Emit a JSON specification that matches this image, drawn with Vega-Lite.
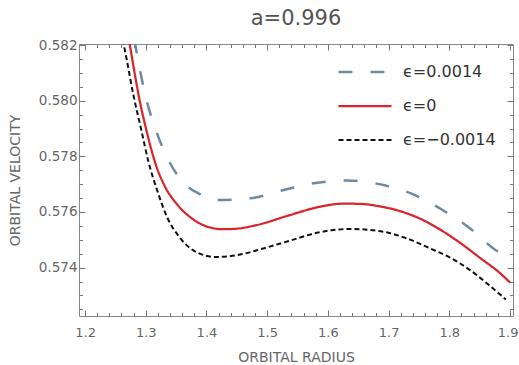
{
  "$schema": "https://vega.github.io/schema/vega-lite/v6.json",
  "width": 434,
  "height": 272,
  "autosize": {"type": "none"},
  "padding": {"left": 79, "top": 44, "right": 6, "bottom": 49},
  "background": "white",
  "title": {"text": "a=0.996", "font": "DejaVu Sans", "fontSize": 21, "color": "#555", "fontWeight": "normal", "anchor": "middle", "offset": 8},
  "config": {
    "view": {"stroke": "#888", "strokeWidth": 1},
    "axis": {"grid": false, "domain": false, "tickColor": "#777", "tickWidth": 1, "labelColor": "#666", "labelFont": "DejaVu Sans", "labelFontSize": 13, "titleFont": "DejaVu Sans", "titleFontSize": 14, "titleColor": "#666", "titleFontWeight": "normal", "labelOverlap": false}
  },
  "data": {"values": [
    {"r": 1.2811, "v": 0.58220, "eps": "ϵ=0.0014"},
    {"r": 1.2862, "v": 0.58159, "eps": "ϵ=0.0014"},
    {"r": 1.2995, "v": 0.58017, "eps": "ϵ=0.0014"},
    {"r": 1.3165, "v": 0.57895, "eps": "ϵ=0.0014"},
    {"r": 1.3355, "v": 0.57795, "eps": "ϵ=0.0014"},
    {"r": 1.3660, "v": 0.57697, "eps": "ϵ=0.0014"},
    {"r": 1.3900, "v": 0.57663, "eps": "ϵ=0.0014"},
    {"r": 1.4170, "v": 0.57643, "eps": "ϵ=0.0014"},
    {"r": 1.4718, "v": 0.57649, "eps": "ϵ=0.0014"},
    {"r": 1.5240, "v": 0.57677, "eps": "ϵ=0.0014"},
    {"r": 1.5761, "v": 0.57703, "eps": "ϵ=0.0014"},
    {"r": 1.6311, "v": 0.57713, "eps": "ϵ=0.0014"},
    {"r": 1.6915, "v": 0.57697, "eps": "ϵ=0.0014"},
    {"r": 1.7368, "v": 0.57667, "eps": "ϵ=0.0014"},
    {"r": 1.7876, "v": 0.57609, "eps": "ϵ=0.0014"},
    {"r": 1.8329, "v": 0.57543, "eps": "ϵ=0.0014"},
    {"r": 1.8727, "v": 0.57469, "eps": "ϵ=0.0014"},
    {"r": 1.8837, "v": 0.57453, "eps": "ϵ=0.0014"},
    {"r": 1.2723, "v": 0.58220, "eps": "ϵ=0"},
    {"r": 1.2770, "v": 0.58159, "eps": "ϵ=0"},
    {"r": 1.2892, "v": 0.58009, "eps": "ϵ=0"},
    {"r": 1.3016, "v": 0.57889, "eps": "ϵ=0"},
    {"r": 1.3167, "v": 0.57769, "eps": "ϵ=0"},
    {"r": 1.3318, "v": 0.57691, "eps": "ϵ=0"},
    {"r": 1.3537, "v": 0.57622, "eps": "ϵ=0"},
    {"r": 1.3758, "v": 0.57577, "eps": "ϵ=0"},
    {"r": 1.4031, "v": 0.57546, "eps": "ϵ=0"},
    {"r": 1.4278, "v": 0.57538, "eps": "ϵ=0"},
    {"r": 1.4500, "v": 0.57540, "eps": "ϵ=0"},
    {"r": 1.4829, "v": 0.57553, "eps": "ϵ=0"},
    {"r": 1.5377, "v": 0.57589, "eps": "ϵ=0"},
    {"r": 1.5871, "v": 0.57619, "eps": "ϵ=0"},
    {"r": 1.6255, "v": 0.57630, "eps": "ϵ=0"},
    {"r": 1.6550, "v": 0.57629, "eps": "ϵ=0"},
    {"r": 1.6860, "v": 0.57620, "eps": "ϵ=0"},
    {"r": 1.7189, "v": 0.57603, "eps": "ϵ=0"},
    {"r": 1.7519, "v": 0.57576, "eps": "ϵ=0"},
    {"r": 1.7848, "v": 0.57537, "eps": "ϵ=0"},
    {"r": 1.8178, "v": 0.57489, "eps": "ϵ=0"},
    {"r": 1.8507, "v": 0.57435, "eps": "ϵ=0"},
    {"r": 1.8837, "v": 0.57380, "eps": "ϵ=0"},
    {"r": 1.9003, "v": 0.57346, "eps": "ϵ=0"},
    {"r": 1.2621, "v": 0.58220, "eps": "ϵ=−0.0014"},
    {"r": 1.2680, "v": 0.58155, "eps": "ϵ=−0.0014"},
    {"r": 1.2797, "v": 0.58020, "eps": "ϵ=−0.0014"},
    {"r": 1.2920, "v": 0.57901, "eps": "ϵ=−0.0014"},
    {"r": 1.3044, "v": 0.57781, "eps": "ϵ=−0.0014"},
    {"r": 1.3195, "v": 0.57673, "eps": "ϵ=−0.0014"},
    {"r": 1.3350, "v": 0.57582, "eps": "ϵ=−0.0014"},
    {"r": 1.3553, "v": 0.57510, "eps": "ϵ=−0.0014"},
    {"r": 1.3798, "v": 0.57460, "eps": "ϵ=−0.0014"},
    {"r": 1.4156, "v": 0.57438, "eps": "ϵ=−0.0014"},
    {"r": 1.4554, "v": 0.57447, "eps": "ϵ=−0.0014"},
    {"r": 1.4937, "v": 0.57469, "eps": "ϵ=−0.0014"},
    {"r": 1.5377, "v": 0.57497, "eps": "ϵ=−0.0014"},
    {"r": 1.5817, "v": 0.57525, "eps": "ϵ=−0.0014"},
    {"r": 1.6366, "v": 0.57539, "eps": "ϵ=−0.0014"},
    {"r": 1.6914, "v": 0.57529, "eps": "ϵ=−0.0014"},
    {"r": 1.7300, "v": 0.57505, "eps": "ϵ=−0.0014"},
    {"r": 1.7684, "v": 0.57469, "eps": "ϵ=−0.0014"},
    {"r": 1.8013, "v": 0.57436, "eps": "ϵ=−0.0014"},
    {"r": 1.8343, "v": 0.57391, "eps": "ϵ=−0.0014"},
    {"r": 1.8672, "v": 0.57334, "eps": "ϵ=−0.0014"},
    {"r": 1.8933, "v": 0.57285, "eps": "ϵ=−0.0014"}
  ]},
  "resolve": {"axis": {"x": "independent", "y": "independent"}},
  "layer": [
    {
      "mark": {"type": "line", "interpolate": "monotone", "clip": true},
      "encoding": {
        "x": {"field": "r", "type": "quantitative",
          "scale": {"domain": [1.19, 1.905], "nice": false, "zero": false},
          "axis": {"orient": "bottom", "title": "ORBITAL RADIUS", "titleY": 41, "titleBaseline": "middle",
            "values": [1.2,1.22,1.24,1.26,1.28,1.3,1.32,1.34,1.36,1.38,1.4,1.42,1.44,1.46,1.48,1.5,1.52,1.54,1.56,1.58,1.6,1.62,1.64,1.66,1.68,1.7,1.72,1.74,1.76,1.78,1.8,1.82,1.84,1.86,1.88,1.9],
            "labelExpr": "abs(datum.value*10-round(datum.value*10))<0.01 ? format(datum.value, '.1f') : ''",
            "tickSize": {"condition": {"test": "abs(datum.value*10-round(datum.value*10))<0.01", "value": -6}, "value": -3.5},
            "labelFlush": 4, "labelFlushOffset": 8,
            "labelPadding": 16}},
        "y": {"field": "v", "type": "quantitative",
          "scale": {"domain": [0.57226, 0.58204], "nice": false, "zero": false},
          "axis": {"orient": "left", "title": "ORBITAL VELOCITY", "titleX": -64, "titleBaseline": "middle",
            "values": [0.5725,0.573,0.5735,0.574,0.5745,0.575,0.5755,0.576,0.5765,0.577,0.5775,0.578,0.5785,0.579,0.5795,0.58,0.5805,0.581,0.5815,0.582],
            "labelExpr": "abs(datum.value*500-round(datum.value*500))<0.01 ? format(datum.value, '.3f') : ''",
            "tickSize": {"condition": {"test": "abs(datum.value*500-round(datum.value*500))<0.01", "value": -6}, "value": -3.5},
            "labelFontSize": 13.5, "labelFlush": false,
            "labelPadding": 8}},
        "color": {"field": "eps", "type": "nominal",
          "scale": {"domain": ["ϵ=0.0014", "ϵ=0", "ϵ=−0.0014"], "range": ["#6b8ba4", "#d9262b", "#111111"]},
          "legend": {"orient": "none", "legendX": 258, "legendY": 11, "title": null, "symbolType": "stroke", "symbolSize": 2809, "symbolStrokeWidth": 2.5, "labelFont": "DejaVu Sans", "labelFontSize": 16, "labelColor": "#333", "labelOffset": 10, "rowPadding": 0, "clipHeight": 34}},
        "strokeDash": {"field": "eps", "type": "nominal",
          "scale": {"domain": ["ϵ=0.0014", "ϵ=0", "ϵ=−0.0014"], "range": [[14, 18], [1, 0], [5, 3]]},
          "legend": {"orient": "none", "legendX": 258, "legendY": 11, "title": null, "symbolType": "stroke", "symbolSize": 2809, "symbolStrokeWidth": 2.5, "labelFont": "DejaVu Sans", "labelFontSize": 16, "labelColor": "#333", "labelOffset": 10, "rowPadding": 0, "clipHeight": 34}},
        "strokeWidth": {"field": "eps", "type": "nominal",
          "scale": {"domain": ["ϵ=0.0014", "ϵ=0", "ϵ=−0.0014"], "range": [2.5, 2, 3]}, "legend": null}
      }
    },
    {
      "mark": {"type": "point", "opacity": 0},
      "encoding": {
        "x": {"field": "r", "type": "quantitative",
          "axis": {"orient": "top", "title": null, "labels": false,
            "values": [1.2,1.22,1.24,1.26,1.28,1.3,1.32,1.34,1.36,1.38,1.4,1.42,1.44,1.46,1.48,1.5,1.52,1.54,1.56,1.58,1.6,1.62,1.64,1.66,1.68,1.7,1.72,1.74,1.76,1.78,1.8,1.82,1.84,1.86,1.88,1.9],
            "tickSize": {"condition": {"test": "abs(datum.value*10-round(datum.value*10))<0.01", "value": -6}, "value": -3.5}}},
        "y": {"field": "v", "type": "quantitative",
          "axis": {"orient": "right", "title": null, "labels": false,
            "values": [0.5725,0.573,0.5735,0.574,0.5745,0.575,0.5755,0.576,0.5765,0.577,0.5775,0.578,0.5785,0.579,0.5795,0.58,0.5805,0.581,0.5815,0.582],
            "tickSize": {"condition": {"test": "abs(datum.value*500-round(datum.value*500))<0.01", "value": -6}, "value": -3.5}}}
      }
    }
  ]
}
